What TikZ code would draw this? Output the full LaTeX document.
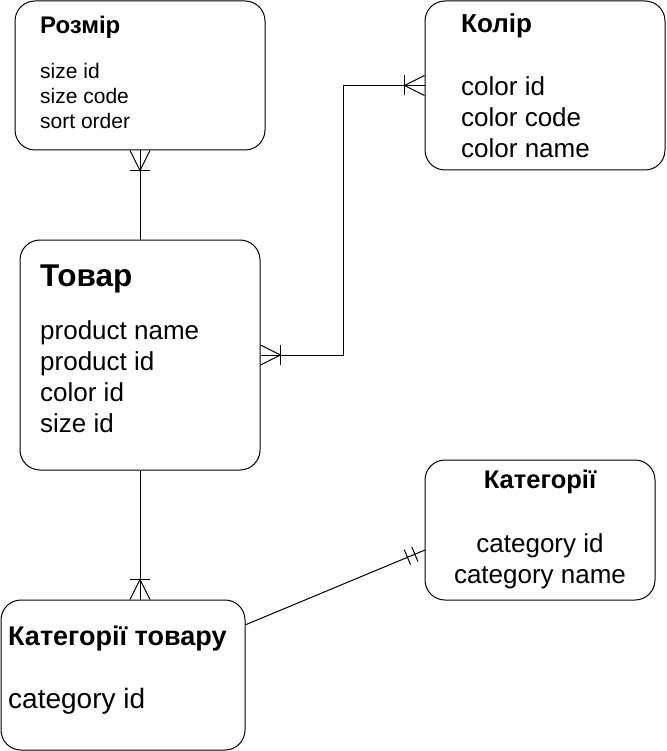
\documentclass[tikz,border=0pt]{standalone}
\usepackage{fontspec}
\setmainfont{Liberation Sans}
\usetikzlibrary{positioning,calc}

\tikzset{
  entity/.style={draw, rounded corners=20pt, line width=1pt, inner sep=0pt},
  ttl/.style={font=\bfseries, anchor=base west, inner sep=0pt},
  attrs/.style={align=left, anchor=base west, inner sep=0pt},
  rel/.style={line width=1pt},
}
% crow's foot: tips on the box, joint and bar at 20 from it
\newcommand{\crowfoot}[2]{%
  \draw[rel] ($(#1)!10pt!90:(#2)$) -- ($(#1)!20pt!(#2)$) -- ($(#1)!10pt!-90:(#2)$);
  \draw[rel] ($($(#1)!20pt!(#2)$)!10pt!90:(#2)$) -- ($($(#1)!20pt!(#2)$)!10pt!-90:(#2)$);
}

\begin{document}
\begin{tikzpicture}[x=1pt,y=-1pt]
\useasboundingbox (0,0) rectangle (666,751);

% entities
\node[entity, minimum width=250pt, minimum height=149pt] (rozmir) at (140,75.5) {};
\node[entity, minimum width=240pt, minimum height=169pt] (kolir) at (545,85.5) {};
\node[entity, minimum width=240pt, minimum height=230pt] (tovar) at (140,355) {};
\node[entity, minimum width=230pt, minimum height=140pt] (kat) at (540,530) {};
\node[entity, minimum width=244pt, minimum height=150pt] (kattov) at (123,675) {};

% texts (multi-line nodes sit on their last baseline)
\node[ttl, font=\bfseries\fontsize{24}{28}\selectfont] (rozmirT) at (40,34) {Розмір};
\node[attrs, font=\fontsize{21}{25}\selectfont] (rozmirA) at (40,129) {size id\\size code\\sort order};

\node[ttl, font=\bfseries\fontsize{26}{30}\selectfont] (kolirT) at (461,33) {Колір};
\node[attrs, font=\fontsize{26}{31}\selectfont] (kolirA) at (461,158) {color id\\color code\\color name};

\node[ttl, font=\bfseries\fontsize{31.5}{36}\selectfont] (tovarT) at (40,286) {Товар};
\node[attrs, font=\fontsize{26}{31}\selectfont] (tovarA) at (40,432) {product name\\product id\\color id\\size id};

\node[ttl, anchor=base, font=\bfseries\fontsize{25.5}{30}\selectfont] (katT) at (540,488) {Категорії};
\node[attrs, align=center, anchor=base, font=\fontsize{26}{31}\selectfont] (katA) at (540,583) {category id\\category name};

\node[ttl, font=\bfseries\fontsize{27}{31}\selectfont] (kattovT) at (8,645) {Категорії товару};
\node[attrs, font=\fontsize{28}{32}\selectfont] (kattovA) at (8,708) {category id};

% relations
\draw[rel] (rozmir.south) -- (tovar.north);
\crowfoot{rozmir.south}{tovar.north}

\coordinate (bend1) at (343,85.5);
\coordinate (bend2) at (343,355);
\draw[rel] (kolir.west) -- (bend1) -- (bend2) -- (tovar.east);
\crowfoot{kolir.west}{bend1}
\crowfoot{tovar.east}{bend2}

\draw[rel] (tovar.south) -- (kattov.north -| tovar.south);
\crowfoot{kattov.north -| tovar.south}{tovar.south}

\coordinate (kattovR) at (245,625);
\coordinate (katL) at (425,550);
\draw[rel] (kattovR) -- (katL);
\draw[rel] ($($(katL)!11pt!(kattovR)$)!8pt!90:(kattovR)$) -- ($($(katL)!11pt!(kattovR)$)!8pt!-90:(kattovR)$);
\draw[rel] ($($(katL)!19pt!(kattovR)$)!8pt!90:(kattovR)$) -- ($($(katL)!19pt!(kattovR)$)!8pt!-90:(kattovR)$);
\end{tikzpicture}
\end{document}
